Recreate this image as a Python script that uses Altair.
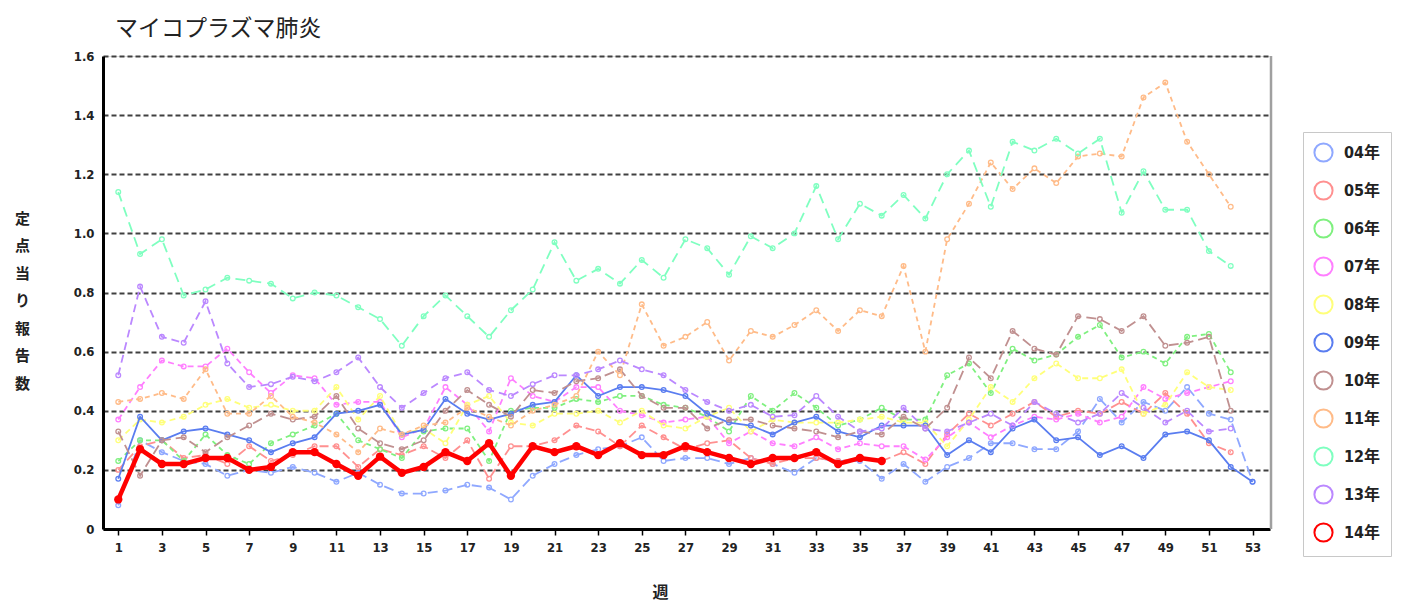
import altair as alt
import pandas as pd

series_names = ["04年", "05年", "06年", "07年", "08年", "09年", "10年", "11年", "12年", "13年", "14年"]

v04 = [0.08, 0.30, 0.26, 0.23, 0.22, 0.18, 0.20, 0.19, 0.21, 0.19, 0.16, 0.19, 0.15, 0.12, 0.12, 0.13, 0.15, 0.14,
       0.10, 0.18, 0.22, 0.25, 0.27, 0.28, 0.31, 0.23, 0.24, 0.24, 0.22, 0.24, 0.22, 0.19, 0.24, 0.23, 0.23, 0.17,
       0.22, 0.16, 0.21, 0.24, 0.29, 0.29, 0.27, 0.27, 0.33, 0.44, 0.36, 0.43, 0.40, 0.48, 0.39, 0.37, 0.16]
v05 = [0.20, 0.28, 0.30, 0.24, 0.25, 0.22, 0.28, 0.23, 0.25, 0.28, 0.28, 0.21, 0.27, 0.25, 0.28, 0.24, 0.30, 0.17,
       0.28, 0.28, 0.30, 0.35, 0.33, 0.28, 0.35, 0.31, 0.27, 0.29, 0.30, 0.24, 0.22, 0.24, 0.24, 0.23, 0.24, 0.23,
       0.26, 0.22, 0.32, 0.39, 0.35, 0.39, 0.43, 0.38, 0.40, 0.39, 0.43, 0.39, 0.46, 0.39, 0.29, 0.26]
v06 = [0.23, 0.30, 0.30, 0.23, 0.32, 0.25, 0.22, 0.29, 0.32, 0.35, 0.39, 0.30, 0.27, 0.24, 0.33, 0.34, 0.34, 0.23,
       0.40, 0.41, 0.41, 0.44, 0.43, 0.45, 0.45, 0.42, 0.41, 0.38, 0.33, 0.45, 0.40, 0.46, 0.41, 0.35, 0.37, 0.41,
       0.37, 0.37, 0.52, 0.56, 0.46, 0.61, 0.57, 0.59, 0.65, 0.69, 0.58, 0.60, 0.56, 0.65, 0.66, 0.53]
v07 = [0.37, 0.48, 0.57, 0.55, 0.55, 0.61, 0.53, 0.46, 0.52, 0.51, 0.42, 0.43, 0.43, 0.31, 0.34, 0.48, 0.42, 0.33,
       0.51, 0.45, 0.43, 0.48, 0.48, 0.40, 0.385, 0.36, 0.37, 0.38, 0.29, 0.33, 0.29, 0.28, 0.31, 0.27, 0.29, 0.28,
       0.28, 0.235, 0.31, 0.36, 0.31, 0.35, 0.38, 0.37, 0.39, 0.36, 0.38, 0.48, 0.44, 0.46, 0.48, 0.50]
v08 = [0.30, 0.37, 0.36, 0.38, 0.42, 0.44, 0.41, 0.42, 0.40, 0.40, 0.48, 0.37, 0.45, 0.32, 0.34, 0.29, 0.42, 0.45,
       0.36, 0.35, 0.39, 0.39, 0.40, 0.36, 0.40, 0.35, 0.34, 0.38, 0.41, 0.33, 0.37, 0.36, 0.36, 0.36, 0.37, 0.38,
       0.36, 0.36, 0.28, 0.37, 0.48, 0.43, 0.51, 0.56, 0.51, 0.51, 0.54, 0.39, 0.42, 0.53, 0.48, 0.47]
v09 = [0.17, 0.38, 0.30, 0.33, 0.34, 0.32, 0.30, 0.26, 0.29, 0.31, 0.39, 0.40, 0.42, 0.32, 0.335, 0.44, 0.39, 0.37,
       0.39, 0.42, 0.43, 0.52, 0.45, 0.48, 0.48, 0.47, 0.45, 0.39, 0.36, 0.35, 0.32, 0.36, 0.38, 0.33, 0.31, 0.35,
       0.35, 0.35, 0.25, 0.30, 0.26, 0.34, 0.37, 0.30, 0.31, 0.25, 0.28, 0.24, 0.32, 0.33, 0.30, 0.21, 0.16]
v10 = [0.33, 0.18, 0.30, 0.31, 0.26, 0.31, 0.35, 0.39, 0.37, 0.38, 0.45, 0.34, 0.29, 0.27, 0.30, 0.40, 0.47, 0.42,
       0.38, 0.47, 0.46, 0.50, 0.51, 0.54, 0.45, 0.41, 0.41, 0.34, 0.37, 0.37, 0.35, 0.34, 0.33, 0.31, 0.33, 0.32,
       0.38, 0.34, 0.41, 0.58, 0.51, 0.67, 0.61, 0.59, 0.72, 0.71, 0.67, 0.72, 0.62, 0.63, 0.65, 0.40]
v11 = [0.43, 0.44, 0.46, 0.44, 0.54, 0.39, 0.39, 0.45, 0.38, 0.36, 0.32, 0.26, 0.34, 0.32, 0.35, 0.36, 0.41, 0.38,
       0.35, 0.40, 0.42, 0.45, 0.60, 0.52, 0.76, 0.62, 0.65, 0.70, 0.57, 0.67, 0.65, 0.69, 0.74, 0.67, 0.74, 0.72,
       0.89, 0.60, 0.98, 1.10, 1.24, 1.15, 1.22, 1.17, 1.26, 1.27, 1.26, 1.46, 1.51, 1.31, 1.20, 1.09]
v12 = [1.14, 0.93, 0.98, 0.79, 0.81, 0.85, 0.84, 0.83, 0.78, 0.80, 0.79, 0.75, 0.71, 0.62, 0.72, 0.79, 0.72, 0.65,
       0.74, 0.81, 0.97, 0.84, 0.88, 0.83, 0.91, 0.85, 0.98, 0.95, 0.86, 0.99, 0.95, 1.00, 1.16, 0.98, 1.10, 1.06,
       1.13, 1.05, 1.20, 1.28, 1.09, 1.31, 1.28, 1.32, 1.27, 1.32, 1.07, 1.21, 1.08, 1.08, 0.94, 0.89]
v13 = [0.52, 0.82, 0.65, 0.63, 0.77, 0.56, 0.48, 0.49, 0.515, 0.50, 0.53, 0.58, 0.48, 0.41, 0.46, 0.51, 0.53, 0.47,
       0.45, 0.49, 0.52, 0.52, 0.54, 0.57, 0.54, 0.52, 0.47, 0.43, 0.40, 0.42, 0.38, 0.385, 0.45, 0.38, 0.33, 0.34,
       0.41, 0.34, 0.33, 0.36, 0.39, 0.35, 0.43, 0.39, 0.36, 0.39, 0.46, 0.41, 0.36, 0.40, 0.33, 0.34]
v14 = [0.10, 0.27, 0.22, 0.22, 0.24, 0.24, 0.20, 0.21, 0.26, 0.26, 0.22, 0.18, 0.245, 0.19, 0.21, 0.26, 0.23, 0.29,
       0.18, 0.28, 0.26, 0.28, 0.25, 0.29, 0.25, 0.25, 0.28, 0.26, 0.24, 0.22, 0.24, 0.24, 0.26, 0.22, 0.24, 0.23]

series_values = [v04, v05, v06, v07, v08, v09, v10, v11, v12, v13, v14]

colors = ["#8fa8ff", "#ff9090", "#7ff07f", "#ff7fff", "#ffff7a", "#5a7df0",
          "#c09090", "#ffbb88", "#7fffc0", "#bb88ff", "#ff0000"]
dashes = [[10, 5], [9, 4], [5, 4], [6, 4], [6, 4], None, [10, 5], [5, 4], [10, 6], [8, 5], None]

x_ticks = list(range(1, 54, 2))
y_ticks = [0, 0.2, 0.4, 0.6, 0.8, 1.0, 1.2, 1.4, 1.6]

rows = []
for name, vals in zip(series_names, series_values):
    for i, v in enumerate(vals):
        rows.append({"series": name, "week": i + 1, "value": v})
df = pd.DataFrame(rows)

W, H = 1167, 473
NUM_FONT = "DejaVu Sans Condensed, Noto Sans CJK JP"
CJK_FONT = "Noto Sans CJK JP"

x_enc = alt.X(
    "week:Q",
    scale=alt.Scale(domain=[0.3, 53.8], nice=False, zero=False),
    axis=alt.Axis(
        values=x_ticks, title="週", grid=False,
        domainColor="black", domainWidth=3, tickColor="black", tickSize=6, tickWidth=1.5,
        labelFont=NUM_FONT, labelFontSize=13, labelFontWeight="bold", labelColor="#222",
        labelPadding=6, titleFont=CJK_FONT, titleFontSize=16, titleFontWeight="bold",
        titleColor="#222", titleX=557, titleY=63, titleBaseline="middle",
    ),
)
y_enc = alt.Y(
    "value:Q",
    scale=alt.Scale(domain=[0, 1.6], nice=False),
    axis=alt.Axis(
        values=y_ticks, labelExpr="datum.value == 0 ? '0' : format(datum.value, '.1f')",
        grid=True, gridColor="#404040", gridDash=[5, 3], gridWidth=1.8,
        domainColor="black", domainWidth=3, ticks=False, labelPadding=9,
        labelFont=NUM_FONT, labelFontSize=13, labelFontWeight="bold", labelColor="#222",
        title=list("定点当り報告数"), titleAngle=0, titleAlign="center", titleBaseline="top",
        titleX=-81, titleY=155, titleLineHeight=27.5, titleFont=CJK_FONT,
        titleFontSize=15, titleFontWeight="bold", titleColor="#222",
    ),
)
stroke_enc = alt.Stroke(
    "series:N",
    scale=alt.Scale(domain=series_names, range=colors),
    legend=alt.Legend(
        title=None, orient="none", legendX=1200, legendY=76,
        symbolType="circle", symbolSize=330, symbolStrokeWidth=2, symbolFillColor="white",
        labelFont=NUM_FONT, labelFontSize=16, labelFontWeight="bold", labelColor="#222",
        labelOffset=10, rowPadding=11, padding=10, strokeColor="#c8c8c8",
        fillColor="white", symbolOpacity=1,
    ),
)

base = alt.Chart(df)
layers = []
for name, color, dash in zip(series_names, colors, dashes):
    sub = base.transform_filter(alt.datum.series == name)
    is_main = name == "14年"
    line_kwargs = {"strokeWidth": 4.5 if is_main else 1.8}
    if dash:
        line_kwargs["strokeDash"] = dash
    layers.append(sub.mark_line(**line_kwargs).encode(x=x_enc, y=y_enc, stroke=stroke_enc))
    if is_main:
        layers.append(sub.mark_circle(size=70, opacity=1, color=color).encode(x=x_enc, y=y_enc))
    else:
        layers.append(
            sub.mark_point(shape="circle", filled=False, size=22, strokeWidth=1.3, opacity=1)
            .encode(x=x_enc, y=y_enc, stroke=stroke_enc)
        )

border = alt.Chart(pd.DataFrame({"a": [0]})).mark_rule(color="#a0a0a0", strokeWidth=2.5).encode(
    x=alt.value(W + 1), y=alt.value(0), y2=alt.value(H)
)
layers.append(border)

chart = alt.layer(*layers).properties(
    width=W,
    height=H,
    autosize=alt.AutoSizeParams(type="none"),
    padding={"left": 95, "top": 48, "right": 129, "bottom": 75},
    title=alt.TitleParams(
        "マイコプラズマ肺炎", anchor="start", frame="group", font=CJK_FONT, fontSize=23,
        fontWeight="normal", color="#222", offset=9, dx=12,
    ),
).configure_view(stroke=None).configure(background="white")

chart.save("out.html", embed_options={"renderer": "svg", "actions": False})
